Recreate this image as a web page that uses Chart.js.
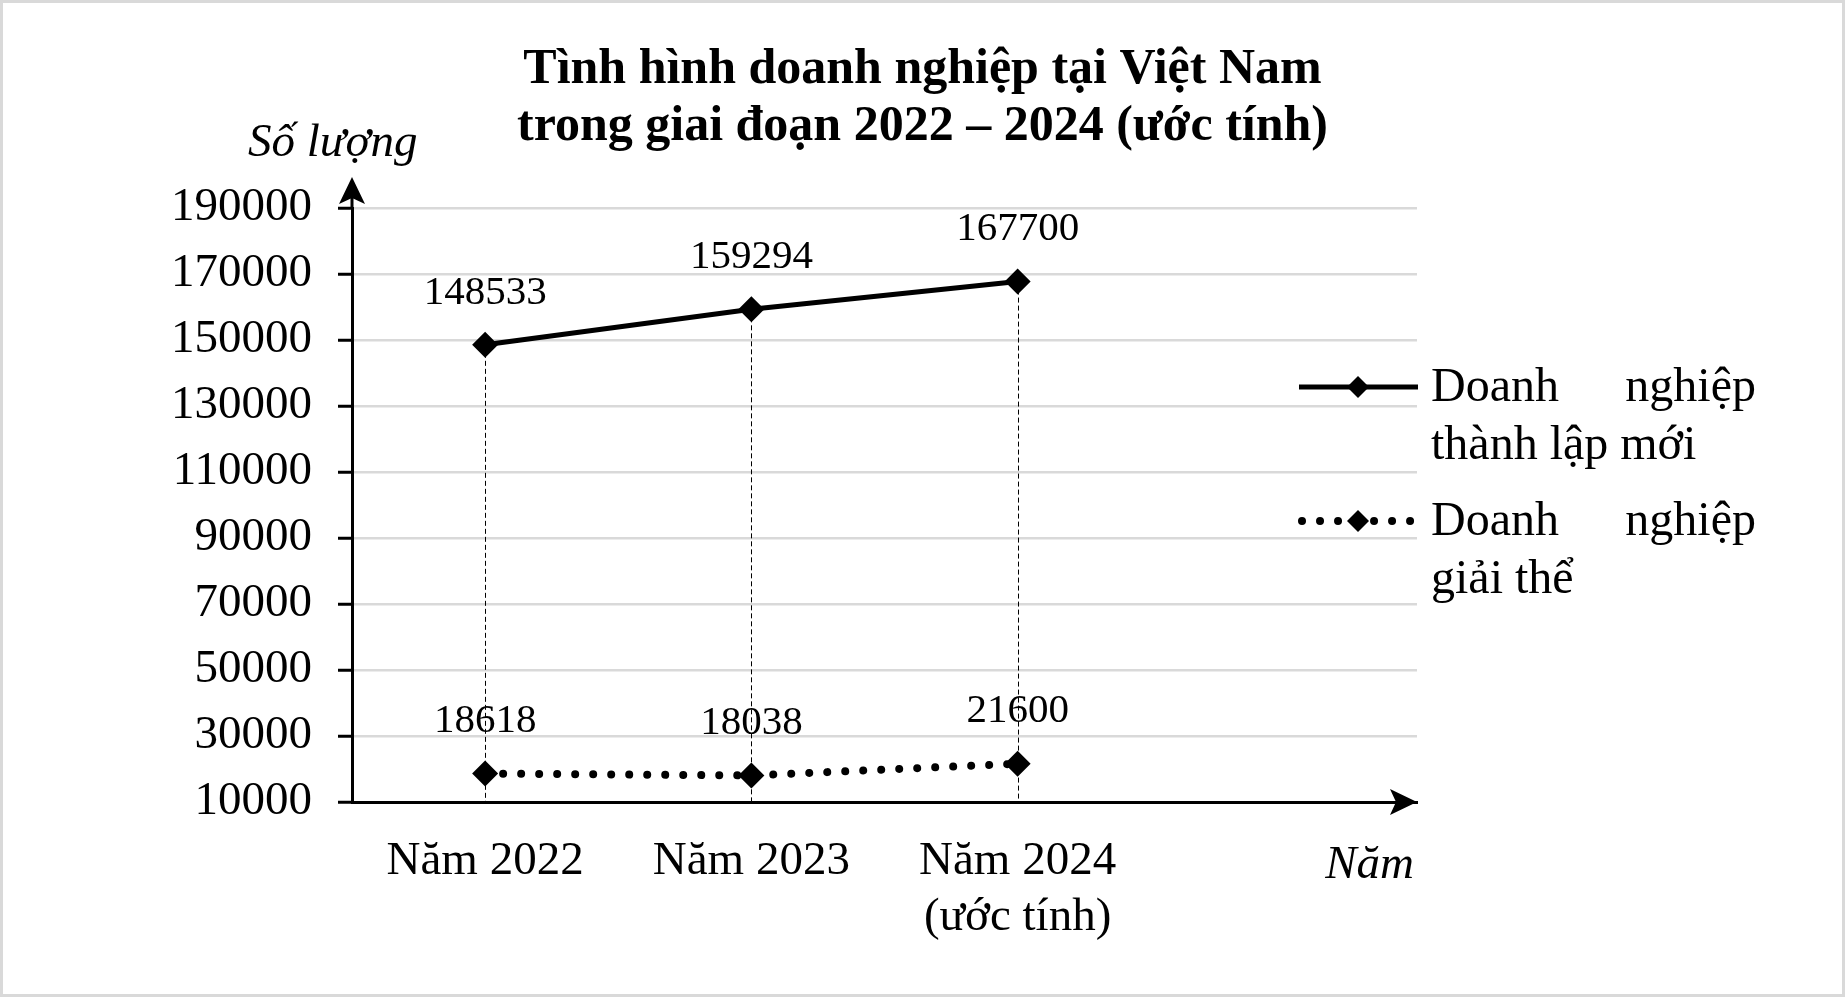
<!DOCTYPE html>
<html lang="vi">
<head>
<meta charset="utf-8">
<title>Tình hình doanh nghiệp tại Việt Nam</title>
<script src="https://cdn.jsdelivr.net/npm/chart.js@4.4.1/dist/chart.umd.min.js"></script>
<style>
  html, body { margin: 0; padding: 0; background: #fff; }
  #wrap { width: 1845px; height: 997px; }
</style>
</head>
<body>
<div id="wrap"><canvas id="chart" width="1845" height="997"></canvas></div>
<script>
// data
const categories = [['Năm 2022'], ['Năm 2023'], ['Năm 2024', '(ước tính)'], ''];
const newFirms = [148533, 159294, 167700, null];
const dissolvedFirms = [18618, 18038, 21600, null];
const yTicks = [10000, 30000, 50000, 70000, 90000, 110000, 130000, 150000, 170000, 190000];
const seriesNames = [['Doanh nghiệp', 'thành lập mới'], ['Doanh nghiệp', 'giải thể']];
const titleLines = ['Tình hình doanh nghiệp tại Việt Nam', 'trong giai đoạn 2022 – 2024 (ước tính)'];
const yTitle = 'Số lượng';
const xTitle = 'Năm';

const FONT = "'Liberation Serif', 'Times New Roman', serif";

function arrowHead(ctx, x, y, dir) {
  // dir: 'up' or 'right', tip at (x, y)
  ctx.beginPath();
  if (dir === 'up') {
    ctx.moveTo(x, y);
    ctx.lineTo(x + 13, y + 27);
    ctx.lineTo(x, y + 21);
    ctx.lineTo(x - 13, y + 27);
  } else {
    ctx.moveTo(x, y);
    ctx.lineTo(x - 27, y - 13);
    ctx.lineTo(x - 21, y);
    ctx.lineTo(x - 27, y + 13);
  }
  ctx.closePath();
  ctx.fill();
}

function diamond(ctx, x, y, r) {
  ctx.beginPath();
  ctx.moveTo(x, y - r);
  ctx.lineTo(x + r, y);
  ctx.lineTo(x, y + r);
  ctx.lineTo(x - r, y);
  ctx.closePath();
  ctx.fill();
}

function justifyLine(ctx, text, x1, x2, y) {
  const words = text.split(' ');
  if (words.length < 2) { ctx.textAlign = 'left'; ctx.fillText(text, x1, y); return; }
  const total = words.reduce((s, w) => s + ctx.measureText(w).width, 0);
  const gap = (x2 - x1 - total) / (words.length - 1);
  let x = x1;
  ctx.textAlign = 'left';
  words.forEach(w => { ctx.fillText(w, x, y); x += ctx.measureText(w).width + gap; });
}

const decor = {
  id: 'decor',
  beforeDatasetsDraw(chart) {
    // thin dashed drop lines from the top point of each year down to the x axis
    const ctx = chart.ctx;
    const area = chart.chartArea;
    const m0 = chart.getDatasetMeta(0), m1 = chart.getDatasetMeta(1);
    ctx.save();
    ctx.strokeStyle = '#000';
    ctx.lineWidth = 1;
    ctx.setLineDash([5, 3]);
    m0.data.forEach((pt, i) => {
      if (newFirms[i] == null) return;
      const top = Math.min(pt.y, m1.data[i].y);
      ctx.beginPath();
      ctx.moveTo(Math.round(pt.x) + 0.5, top);
      ctx.lineTo(Math.round(pt.x) + 0.5, area.bottom);
      ctx.stroke();
    });
    ctx.restore();
  },
  afterDraw(chart) {
    const ctx = chart.ctx;
    const area = chart.chartArea;
    ctx.save();

    // outer frame
    ctx.strokeStyle = '#d9d9d9';
    ctx.lineWidth = 3;
    ctx.strokeRect(1.5, 1.5, chart.width - 3, chart.height - 3);

    // axis arrows
    ctx.fillStyle = '#000';
    ctx.strokeStyle = '#000';
    ctx.lineWidth = 3;
    ctx.beginPath();
    ctx.moveTo(area.left, area.top + 1);
    ctx.lineTo(area.left, area.top - 20);
    ctx.stroke();
    arrowHead(ctx, area.left, area.top - 31, 'up');
    arrowHead(ctx, area.right, area.bottom, 'right');

    // title
    ctx.fillStyle = '#000';
    ctx.textAlign = 'center';
    ctx.textBaseline = 'alphabetic';
    ctx.font = 'bold 50px ' + FONT;
    ctx.fillText(titleLines[0], chart.width / 2, 83);
    ctx.fillText(titleLines[1], chart.width / 2, 140);

    // axis titles
    ctx.font = 'italic 47px ' + FONT;
    ctx.textAlign = 'left';
    ctx.fillText(yTitle, 248, 156);
    ctx.textAlign = 'right';
    ctx.fillText(xTitle, area.right - 3, 878);

    // value labels
    ctx.font = '41px ' + FONT;
    ctx.textAlign = 'center';
    ctx.textBaseline = 'middle';
    chart.data.datasets.forEach((ds, d) => {
      chart.getDatasetMeta(d).data.forEach((pt, i) => {
        if (ds.data[i] == null) return;
        ctx.fillText(String(ds.data[i]), pt.x, pt.y - 52);
      });
    });

    // legend
    const items = [{ y: 387 }, { y: 521 }];
    chart.data.datasets.forEach((ds, d) => {
      const y = items[d].y;
      ctx.save();
      ctx.strokeStyle = ds.borderColor;
      ctx.lineWidth = ds.borderWidth;
      ctx.lineCap = ds.borderCapStyle || 'butt';
      ctx.setLineDash(ds.borderDash || []);
      ctx.beginPath();
      if (ds.borderDash && ds.borderDash.length) {
        ctx.moveTo(1302, y);
        ctx.lineTo(1412, y);
      } else {
        ctx.moveTo(1299, y);
        ctx.lineTo(1418, y);
      }
      ctx.stroke();
      ctx.restore();
      ctx.fillStyle = '#000';
      diamond(ctx, 1358, y, 11);

      ctx.font = '48px ' + FONT;
      ctx.textBaseline = 'middle';
      const lines = seriesNames[d];
      lines.forEach((line, k) => {
        const ly = y + 1 + k * 58;
        if (k < lines.length - 1) justifyLine(ctx, line, 1431, 1756, ly);
        else { ctx.textAlign = 'left'; ctx.fillText(line, 1431, ly); }
      });
    });

    ctx.restore();
  }
};

new Chart(document.getElementById('chart'), {
  type: 'line',
  data: {
    labels: categories,
    datasets: [
      {
        label: seriesNames[0].join(' '),
        data: newFirms,
        borderColor: '#000',
        backgroundColor: '#000',
        borderWidth: 5,
        pointStyle: 'rectRot',
        pointRadius: 13,
        pointBorderWidth: 0,
        pointBackgroundColor: '#000',
        tension: 0
      },
      {
        label: seriesNames[1].join(' '),
        data: dissolvedFirms,
        borderColor: '#000',
        backgroundColor: '#000',
        borderWidth: 8,
        borderDash: [0.01, 18],
        borderCapStyle: 'round',
        pointStyle: 'rectRot',
        pointRadius: 13,
        pointBorderWidth: 0,
        pointBackgroundColor: '#000',
        tension: 0
      }
    ]
  },
  options: {
    responsive: false,
    devicePixelRatio: 1,
    animation: false,
    layout: { padding: { top: 208, right: 428, bottom: 0, left: 0 } },
    plugins: {
      legend: { display: false },
      title: { display: false },
      tooltip: { enabled: false }
    },
    scales: {
      x: {
        offset: true,
        grid: { display: false, drawTicks: false },
        border: { color: '#000', width: 3 },
        ticks: {
          color: '#000',
          font: { family: FONT, size: 47, lineHeight: 1.19 },
          padding: 32,
          maxRotation: 0,
          autoSkip: false
        },
        afterFit(scale) { scale.height = 195; }
      },
      y: {
        min: 10000,
        max: 190000,
        afterBuildTicks(scale) { scale.ticks = yTicks.map(v => ({ value: v })); },
        grid: {
          color: c => (c.tick && c.tick.value === yTicks[0]) ? 'rgba(0,0,0,0)' : '#d9d9d9',
          lineWidth: 2.5,
          drawTicks: true,
          tickLength: 14,
          tickColor: '#000',
          tickWidth: 3
        },
        border: { color: '#000', width: 3 },
        ticks: {
          color: '#000',
          font: { family: FONT, size: 47 },
          padding: 26,
          callback: v => String(v)
        },
        afterFit(scale) { scale.width = 352; }
      }
    }
  },
  plugins: [decor]
});
</script>
</body>
</html>
